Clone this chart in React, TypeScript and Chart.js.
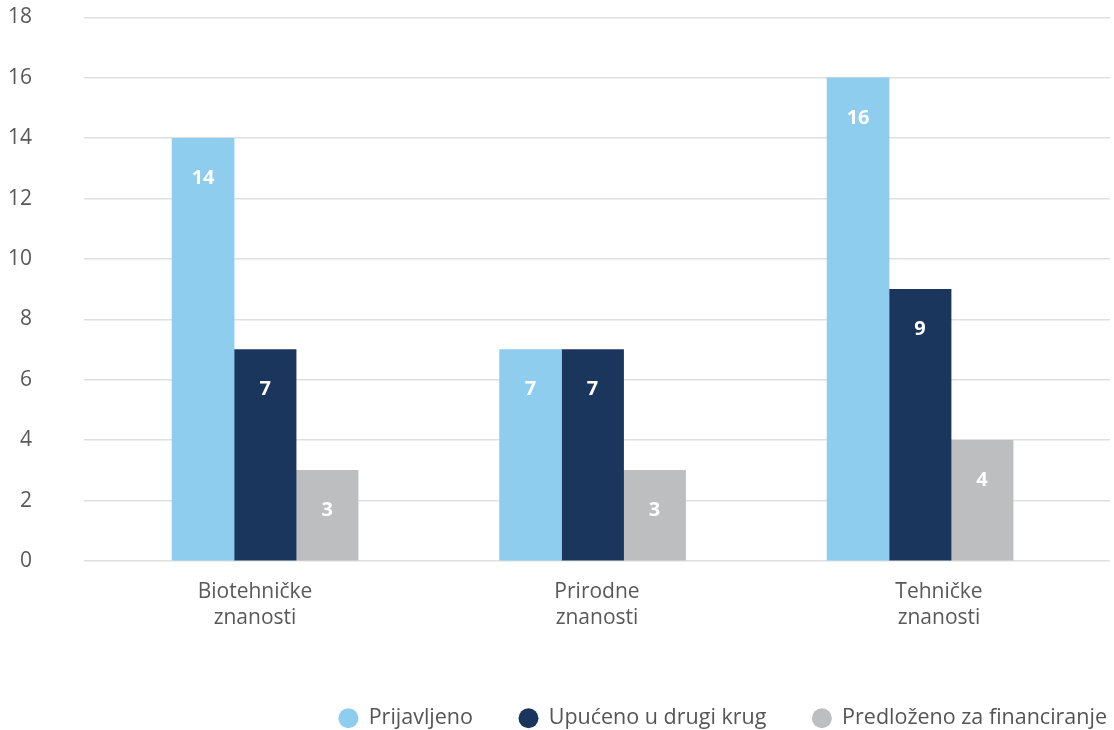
import React, { useEffect, useRef } from "react";
import { Chart, registerables } from "chart.js";
Chart.register(...registerables);

const categories = [["Biotehničke", "znanosti"], ["Prirodne", "znanosti"], ["Tehničke", "znanosti"]];
const seriesNames = ["Prijavljeno", "Upućeno u drugi krug", "Predloženo za financiranje"];
const prijavljeno = [14, 7, 16];
const upuceno = [7, 7, 9];
const predlozeno = [3, 3, 4];
const colors = ["#8ecdee", "#1b365d", "#bdbec0"];
const yTicks = [0, 2, 4, 6, 8, 10, 12, 14, 16, 18];

// hidden bar-position axis range (category index units)
const barAxisMin = -0.553;
const barAxisMax = 2.58;

const FONT = "'Open Sans', 'Noto Sans', sans-serif";

const labelPlugin = {
  id: "barLabels",
  afterDatasetsDraw(chart: any) {
    const { ctx } = chart;
    ctx.save();
    ctx.fillStyle = "#ffffff";
    ctx.font = `bold 20px ${FONT}`;
    ctx.textAlign = "center";
    ctx.textBaseline = "middle";
    chart.data.datasets.forEach((ds: any, i: number) => {
      const meta = chart.getDatasetMeta(i);
      meta.data.forEach((bar: any, j: number) => {
        ctx.fillText(String(ds.data[j].y), bar.x, bar.y + 40);
      });
    });
    ctx.restore();
  },
};

const legendShift = {
  id: "legendShift",
  afterLayout(chart: any) {
    const lg = chart.legend;
    if (!lg) return;
    const dx = 1153 - lg.right;
    const dy = 9;
    lg.left += dx;
    lg.right += dx;
    lg.top += dy;
    lg.bottom += dy;
  },
};

export default function App() {
  const ref = useRef<HTMLCanvasElement>(null);
  useEffect(() => {
    const data = [prijavljeno, upuceno, predlozeno];
    const chart = new Chart(ref.current!, {
      type: "bar",
      data: {
        labels: categories,
        datasets: seriesNames.map((n, i) => ({
          label: n,
          data: data[i].map((v, j) => ({ x: j, y: v })),
          xAxisID: "xb",
          backgroundColor: colors[i],
          borderWidth: 0,
          barThickness: 62,
        })),
      },
      options: {
        animation: false,
        responsive: false,
        maintainAspectRatio: false,
        layout: { padding: { top: 17.5, right: 4, bottom: 0, left: 0 } },
        scales: {
          x: {
            type: "category",
            offset: true,
            afterFit: (axis: any) => { axis.height = 91.5; },
            grid: { display: false, drawTicks: false },
            border: { display: false },
            ticks: { color: "#595959", font: { family: FONT, size: 21, lineHeight: 1.27 }, padding: 17.5, maxRotation: 0 },
          },
          xb: {
            type: "linear",
            display: false,
            offset: false,
            grid: { offset: false },
            min: barAxisMin,
            max: barAxisMax,
          },
          y: {
            min: 0,
            max: 18,
            afterFit: (axis: any) => { axis.width = 84; axis.paddingTop = 0; axis.paddingBottom = 0; },
            afterBuildTicks: (axis: any) => { axis.ticks = yTicks.map((v) => ({ value: v })); },
            grid: { color: "#dfdfdf", lineWidth: 1.6, drawTicks: false },
            border: { display: false },
            ticks: { color: "#595959", font: { family: FONT, size: 21 }, padding: 52 },
          },
        },
        plugins: {
          legend: {
            position: "bottom",
            align: "end",
            labels: {
              usePointStyle: true,
              pointStyle: "circle",
              boxWidth: 19,
              boxHeight: 14.14,
              padding: 46,
              color: "#555",
              font: { family: FONT, size: 21.5 },
            },
          },
          tooltip: { enabled: false },
        },
      },
      plugins: [labelPlugin, legendShift],
    });
    return () => chart.destroy();
  }, []);
  return (
    <div style={{ position: "fixed", left: 0, top: 0, width: 1114, height: 730, background: "#fff" }}>
      <canvas ref={ref} width={1114} height={730} style={{ width: 1114, height: 730 }} />
    </div>
  );
}
